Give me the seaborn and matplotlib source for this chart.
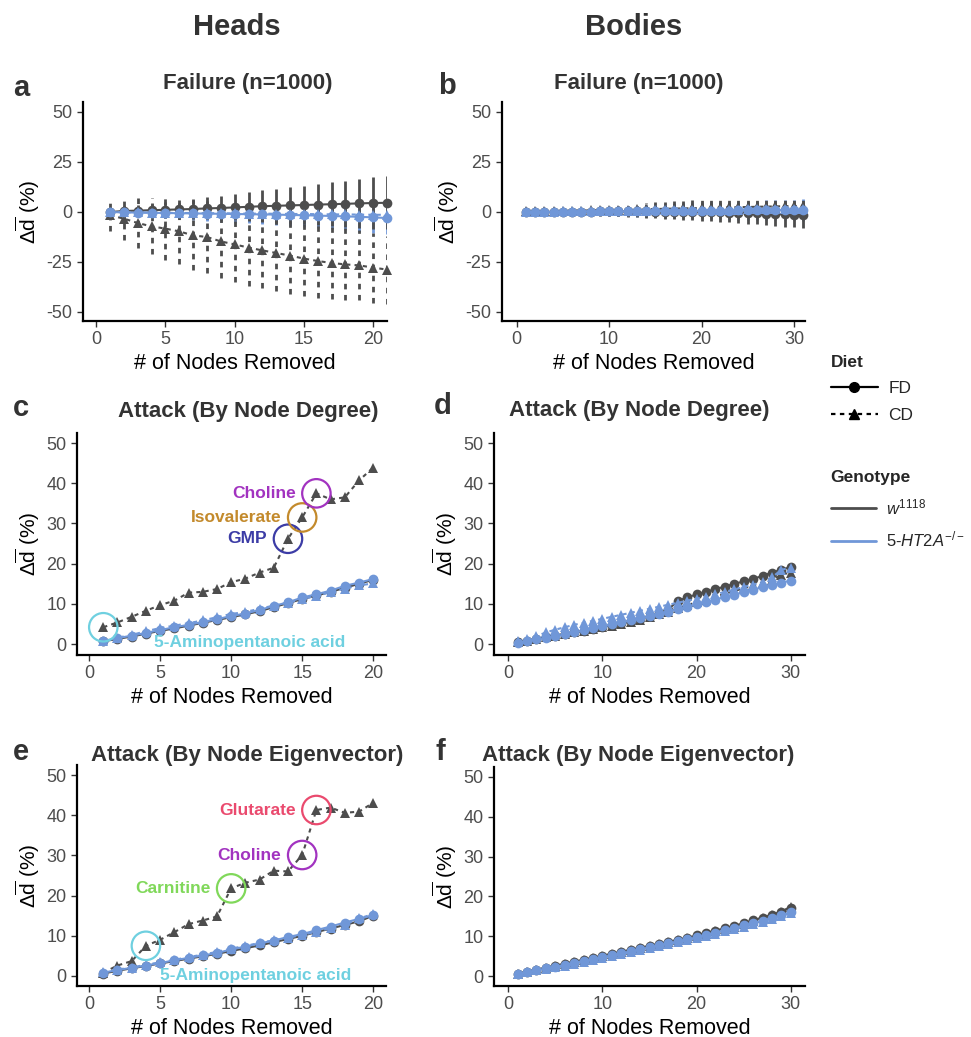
import numpy as np
import pandas as pd
import seaborn as sns
import matplotlib.pyplot as plt
from matplotlib.lines import Line2D

sns.set_theme(style="ticks")
plt.rcParams['font.family'] = ['Liberation Sans', 'DejaVu Sans']
plt.rcParams['mathtext.fontset'] = 'custom'
plt.rcParams['mathtext.rm'] = 'Liberation Sans'
plt.rcParams['mathtext.it'] = 'Liberation Sans:italic'
plt.rcParams['mathtext.bf'] = 'Liberation Sans:bold'
plt.rcParams['axes.unicode_minus'] = False

# ---- data ----
genotypes = ['w1118', '5-HT2A']
diets = ['FD', 'CD']

# a: heads, failure
a_x = list(range(1, 22))
a_w_fd = [0, 0.5, 0.7, 0.9, 1.1, 1.3, 1.5, 1.8, 2.0, 2.3, 2.6, 2.9, 3.1, 3.3, 3.5, 3.7, 3.9, 4.1, 4.3, 4.5, 4.6]
a_w_fd_sd = [1.5, 2.5, 3.0, 3.5, 4.0, 4.5, 5.0, 5.5, 6.0, 6.5, 7.3, 8.0, 8.5, 9.0, 9.5, 10.3, 11.0, 11.5, 12.2, 12.8, 13.3]
a_w_cd = [-1.7, -3.3, -5.5, -7.2, -8.3, -9.7, -11.7, -12.5, -14.7, -16.2, -17.8, -19.2, -20.5, -21.8, -23.3, -24.5, -25.5, -26.2, -26.7, -27.8, -28.8]
a_w_cd_sd = [8, 10.5, 12.5, 14, 15.5, 16.5, 17.5, 18, 18.5, 19, 19, 19, 19, 19, 18.5, 18.5, 18, 18, 17.5, 17.5, 17]
a_h_fd = [0, -0.2, -0.3, -0.4, -0.5, -0.6, -0.7, -0.8, -0.9, -1.0, -1.1, -1.2, -1.3, -1.5, -1.6, -1.8, -2.0, -2.2, -2.4, -2.7, -3.0]
a_h_fd_sd = [1, 1.5, 2, 2.3, 2.6, 3, 3.3, 3.6, 4, 4.3, 4.6, 5, 5.3, 5.6, 6, 6.3, 6.7, 7, 7.4, 7.8, 8.2]
a_h_cd = [0.1, -0.1, -0.2, -0.3, -0.4, -0.5, -0.5, -0.6, -0.6, -0.7, -0.8, -0.8, -0.9, -1.0, -1.0, -1.1, -1.2, -1.2, -1.3, -1.4, -1.4]
a_h_cd_sd = [1, 1.4, 1.8, 2.1, 2.4, 2.7, 3.0, 3.3, 3.6, 3.9, 4.2, 4.5, 4.8, 5.1, 5.4, 5.7, 6.0, 6.3, 6.6, 6.9, 7.2]

# b: bodies, failure
b_x = list(range(1, 32))
b_w_fd = [0, 0, 0.1, 0.1, 0.1, 0.2, 0.2, 0.2, 0.3, 0.3, 0.3, 0.3, 0.3, 0.3, 0.2, 0.2, 0.1, 0.1, 0, 0,
          -0.1, -0.2, -0.3, -0.4, -0.5, -0.6, -0.8, -1.0, -1.2, -1.4, -1.6]
b_w_fd_sd = [0.5, 0.7, 0.9, 1.1, 1.3, 1.5, 1.7, 1.9, 2.1, 2.3, 2.5, 2.7, 2.9, 3.1, 3.3, 3.5, 3.7, 3.9, 4.1, 4.3,
             4.5, 4.7, 4.9, 5.1, 5.3, 5.5, 5.7, 5.9, 6.1, 6.3, 6.5]
b_w_cd = [0.4, 0.5, 0.5, 0.6, 0.6, 0.7, 0.7, 0.8, 0.9, 1.0, 1.1, 1.2, 1.3, 1.4, 1.5, 1.6, 1.7, 1.8, 1.9, 2.0,
          2.1, 2.2, 2.3, 2.4, 2.5, 2.6, 2.7, 2.8, 2.9, 3.0, 3.1]
b_w_cd_sd = [0.5, 0.7, 0.9, 1.1, 1.3, 1.5, 1.7, 1.9, 2.1, 2.3, 2.5, 2.7, 2.9, 3.1, 3.3, 3.5, 3.7, 3.9, 4.1, 4.3,
             4.4, 4.5, 4.6, 4.7, 4.8, 4.9, 5.0, 5.1, 5.2, 5.3, 5.4]
b_h_fd = [0, 0, 0.1, 0.1, 0.1, 0.2, 0.2, 0.2, 0.3, 0.3, 0.3, 0.4, 0.4, 0.4, 0.5, 0.5, 0.5, 0.6, 0.6, 0.6,
          0.7, 0.7, 0.7, 0.8, 0.8, 0.8, 0.9, 0.9, 0.9, 1.0, 1.0]
b_h_fd_sd = [0.4, 0.6, 0.8, 1.0, 1.2, 1.4, 1.6, 1.8, 2.0, 2.2, 2.4, 2.6, 2.8, 3.0, 3.2, 3.4, 3.6, 3.8, 4.0, 4.2,
             4.3, 4.4, 4.5, 4.6, 4.7, 4.8, 4.9, 5.0, 5.1, 5.2, 5.3]
b_h_cd = [0.1, 0.1, 0.2, 0.2, 0.3, 0.3, 0.4, 0.4, 0.5, 0.5, 0.6, 0.6, 0.7, 0.7, 0.8, 0.8, 0.9, 0.9, 1.0, 1.0,
          1.1, 1.1, 1.2, 1.2, 1.3, 1.3, 1.4, 1.4, 1.5, 1.5, 1.6]
b_h_cd_sd = [0.4, 0.6, 0.8, 1.0, 1.2, 1.4, 1.6, 1.8, 2.0, 2.2, 2.4, 2.6, 2.8, 3.0, 3.2, 3.4, 3.6, 3.8, 4.0, 4.2,
             4.3, 4.4, 4.5, 4.6, 4.7, 4.8, 4.9, 5.0, 5.1, 5.2, 5.3]

# c: heads, attack by degree
c_x = list(range(1, 21))
c_w_fd = [0.7, 1.3, 1.9, 2.6, 3.3, 3.9, 4.6, 5.3, 6.0, 6.7, 7.4, 8.2, 9.2, 10.2, 11.2, 12.1, 13.0, 14.0, 15.0, 16.0]
c_w_cd = [4.2, 5.4, 6.8, 8.3, 9.7, 10.8, 12.8, 13.0, 13.7, 15.4, 16.3, 17.8, 19.0, 26.2, 31.5, 37.5, 36.0, 36.5, 40.7, 43.9]
c_h_fd = [0.8, 1.5, 2.1, 2.8, 3.5, 4.2, 4.8, 5.5, 6.2, 7.0, 7.6, 8.5, 9.5, 10.4, 11.6, 12.4, 13.3, 14.5, 15.3, 16.2]
c_h_cd = [0.9, 1.6, 2.3, 3.2, 4.0, 4.6, 5.2, 5.9, 6.7, 7.5, 8.0, 8.8, 9.6, 10.3, 11.2, 12.0, 12.9, 13.8, 14.6, 15.1]

# d: bodies, attack by degree
d_x = list(range(1, 31))
d_w_fd = [0.5, 0.9, 1.3, 1.7, 2.1, 2.5, 2.9, 3.3, 3.8, 4.3, 4.8, 5.3, 5.8, 6.3, 6.9, 7.7, 8.6, 10.8, 11.6, 12.4,
          13.0, 13.7, 14.3, 15.0, 15.6, 16.2, 17.0, 17.8, 18.5, 19.2]
d_w_cd = [0.5, 0.9, 1.3, 1.7, 2.1, 2.5, 2.9, 3.3, 3.8, 4.2, 4.6, 5.1, 5.6, 6.1, 6.7, 7.4, 8.1, 8.9, 9.7, 10.4,
          11.1, 11.8, 12.5, 13.2, 13.9, 14.6, 15.3, 16.0, 17.3, 17.8]
d_h_fd = [0.4, 0.8, 1.2, 1.6, 2.0, 2.4, 2.9, 3.4, 3.9, 4.4, 4.9, 5.4, 5.9, 6.4, 6.9, 7.5, 8.1, 8.7, 9.3, 9.9,
          10.5, 11.1, 11.7, 12.3, 12.9, 13.5, 14.2, 14.8, 15.3, 15.8]
d_h_cd = [0.8, 1.4, 2.0, 2.9, 3.6, 4.2, 4.8, 5.3, 5.8, 6.3, 6.8, 7.3, 7.8, 8.3, 8.8, 9.3, 9.8, 10.3, 10.8, 11.3,
          11.8, 12.4, 13.0, 13.6, 14.2, 14.8, 15.5, 16.6, 18.5, 19.0]

# e: heads, attack by eigenvector
e_x = list(range(1, 21))
e_w_fd = [0.6, 1.3, 1.9, 2.5, 3.1, 3.7, 4.3, 4.9, 5.5, 6.2, 6.9, 7.6, 8.4, 9.2, 10.0, 10.9, 11.8, 12.7, 13.6, 15.0]
e_w_cd = [0.8, 2.6, 3.7, 7.5, 9.0, 10.9, 12.9, 13.8, 14.8, 21.8, 23.2, 24.0, 26.2, 26.0, 30.1, 41.3, 41.9, 40.6, 40.9, 43.1]
e_h_fd = [0.8, 1.5, 2.0, 2.6, 3.2, 3.9, 4.5, 5.1, 5.7, 6.6, 7.3, 8.1, 8.8, 9.7, 10.4, 11.4, 12.3, 13.3, 14.2, 15.1]
e_h_cd = [0.9, 1.6, 2.1, 2.8, 3.4, 4.0, 4.7, 5.3, 6.0, 6.8, 7.5, 8.2, 8.9, 9.5, 10.2, 11.0, 11.9, 12.8, 14.3, 15.4]

# f: bodies, attack by eigenvector
f_x = list(range(1, 31))
f_w_fd = [0.6, 1.1, 1.6, 2.1, 2.6, 3.1, 3.6, 4.1, 4.6, 5.1, 5.6, 6.1, 6.6, 7.1, 7.6, 8.1, 8.6, 9.1, 9.6, 10.2,
          10.8, 11.4, 12.0, 12.6, 13.3, 14.0, 14.7, 15.4, 16.2, 17.2]
f_w_cd = [0.5, 1.0, 1.5, 2.0, 2.5, 3.0, 3.5, 4.0, 4.5, 5.0, 5.5, 6.0, 6.5, 7.0, 7.5, 8.0, 8.5, 9.0, 9.5, 10.0,
          10.6, 11.2, 11.8, 12.4, 13.1, 13.8, 14.5, 15.3, 16.2, 17.4]
f_h_fd = [0.5, 0.9, 1.4, 1.9, 2.3, 2.8, 3.3, 3.8, 4.2, 4.7, 5.2, 5.7, 6.2, 6.7, 7.2, 7.7, 8.2, 8.7, 9.2, 9.7,
          10.3, 10.9, 11.5, 12.1, 12.7, 13.3, 13.9, 14.6, 15.3, 16.0]
f_h_cd = [0.6, 1.0, 1.4, 1.8, 2.2, 2.6, 3.0, 3.5, 4.0, 4.5, 5.0, 5.5, 6.0, 6.5, 7.0, 7.5, 8.0, 8.5, 9.0, 9.5,
          10.0, 10.6, 11.2, 11.8, 12.4, 13.0, 13.6, 14.3, 15.0, 15.8]

# annotations: (x, y, label, color)
ann_c = [(1, 4.2, None, '#6fd0e0'), (14, 26.2, 'GMP', '#3c3ca6'), (15, 31.5, 'Isovalerate', '#c38a2c'),
         (16, 37.5, 'Choline', '#a233c0')]
ann_e = [(4, 7.5, None, '#6fd0e0'), (10, 21.8, 'Carnitine', '#80d85a'), (15, 30.1, 'Choline', '#a233c0'),
         (16, 41.3, 'Glutarate', '#ea4a6e')]

DARK = '#4d4d4d'
BLUE = '#7097d8'
pal = {'w1118': DARK, '5-HT2A': BLUE}

W, H = 971, 1037
fig = plt.figure(figsize=(W / 100, H / 100), dpi=100)


def box(l, r, t, b):
    return [l / W, 1 - b / H, (r - l) / W, (b - t) / H]


def long_df(x, w_fd, w_cd, h_fd, h_cd):
    rows = []
    for g, d, ys in [('w1118', 'FD', w_fd), ('w1118', 'CD', w_cd), ('5-HT2A', 'FD', h_fd), ('5-HT2A', 'CD', h_cd)]:
        for xi, yi in zip(x, ys):
            rows.append((xi, yi, g, d))
    return pd.DataFrame(rows, columns=['x', 'y', 'Genotype', 'Diet'])


def draw(ax, df, ms=7):
    sns.lineplot(data=df, x='x', y='y', hue='Genotype', style='Diet', hue_order=genotypes,
                 style_order=diets, palette=pal, markers={'FD': 'o', 'CD': '^'},
                 dashes={'FD': '', 'CD': (2, 2)}, markersize=ms, markeredgewidth=0,
                 linewidth=1.5, legend=False, ax=ax, clip_on=False)


def style(ax, xlim, ylim, yticks, xticks):
    ax.set_xlim(*xlim)
    ax.set_ylim(*ylim)
    ax.set_yticks(yticks)
    ax.set_xticks(xticks)
    for s in ['top', 'right']:
        ax.spines[s].set_visible(False)
    for s in ['left', 'bottom']:
        ax.spines[s].set_color('black')
        ax.spines[s].set_linewidth(1.6)
    ax.tick_params(axis='both', colors='#333333', labelcolor='#4d4d4d', labelsize=13, length=4, width=1)
    ax.set_xlabel('# of Nodes Removed', fontsize=15.5, color='black', labelpad=3)
    ax.set_ylabel(r'$\Delta\overline{\mathrm{d}}$ (%)', fontsize=15, color='black', labelpad=3)


def errbars(ax, x, ys, sds, color, dashed):
    lo = [m - s for m, s in zip(ys, sds)]
    hi = [m + s for m, s in zip(ys, sds)]
    ax.vlines(x, lo, hi, colors=color, linewidth=2.0, linestyles=(0, (2, 2)) if dashed else 'solid')


# panel a
ax_a = fig.add_axes(box(83, 387, 102, 321))
errbars(ax_a, a_x, a_h_cd, a_h_cd_sd, BLUE, True)
errbars(ax_a, a_x, a_h_fd, a_h_fd_sd, BLUE, False)
errbars(ax_a, a_x, a_w_cd, a_w_cd_sd, DARK, True)
errbars(ax_a, a_x, a_w_fd, a_w_fd_sd, DARK, False)
draw(ax_a, long_df(a_x, a_w_fd, a_w_cd, a_h_fd, a_h_cd))
style(ax_a, (-0.95, 21), (-54.5, 55), [-50, -25, 0, 25, 50], [0, 5, 10, 15, 20])

# panel b
ax_b = fig.add_axes(box(502, 805, 102, 321))
errbars(ax_b, b_x, b_h_cd, b_h_cd_sd, BLUE, True)
errbars(ax_b, b_x, b_h_fd, b_h_fd_sd, BLUE, False)
errbars(ax_b, b_x, b_w_cd, b_w_cd_sd, DARK, True)
errbars(ax_b, b_x, b_w_fd, b_w_fd_sd, DARK, False)
draw(ax_b, long_df(b_x, b_w_fd, b_w_cd, b_h_fd, b_h_cd))
style(ax_b, (-1.6, 31.2), (-54.5, 55), [-50, -25, 0, 25, 50], [0, 10, 20, 30])

# panel c
ax_c = fig.add_axes(box(77, 386, 433, 655))
draw(ax_c, long_df(c_x, c_w_fd, c_w_cd, c_h_fd, c_h_cd))
style(ax_c, (-0.85, 20.9), (-2.7, 52.5), [0, 10, 20, 30, 40, 50], [0, 5, 10, 15, 20])

# panel d
ax_d = fig.add_axes(box(494, 805, 433, 655))
draw(ax_d, long_df(d_x, d_w_fd, d_w_cd, d_h_fd, d_h_cd))
style(ax_d, (-1.5, 31.5), (-2.7, 52.5), [0, 10, 20, 30, 40, 50], [0, 10, 20, 30])

# panel e
ax_e = fig.add_axes(box(77, 386, 765, 986))
draw(ax_e, long_df(e_x, e_w_fd, e_w_cd, e_h_fd, e_h_cd))
style(ax_e, (-0.85, 20.9), (-2.5, 52.5), [0, 10, 20, 30, 40, 50], [0, 5, 10, 15, 20])

# panel f
ax_f = fig.add_axes(box(494, 805, 767, 986))
draw(ax_f, long_df(f_x, f_w_fd, f_w_cd, f_h_fd, f_h_cd))
style(ax_f, (-1.5, 31.5), (-2.5, 52.5), [0, 10, 20, 30, 40, 50], [0, 10, 20, 30])


def annotate(ax, anns, acid_xy):
    for x, y, lab, col in anns:
        ax.scatter([x], [y], s=420, facecolors='none', edgecolors=col, linewidths=1.6, zorder=5, clip_on=False)
        if lab:
            ax.annotate(lab, (x, y), xytext=(-15, 0), textcoords='offset points', ha='right', va='center',
                        color=col, fontsize=12.5, fontweight='bold')
    ax.text(acid_xy[0], acid_xy[1], '5-Aminopentanoic acid', ha='center', va='center', color='#6fd0e0',
            fontsize=12.5, fontweight='bold', zorder=6)


annotate(ax_c, ann_c, (11.3, 0.4))
annotate(ax_e, ann_e, (11.7, 0.1))

# titles and panel letters
for x, y, t in [(248, 84, 'Failure (n=1000)'), (639, 84, 'Failure (n=1000)'),
                (248, 411, 'Attack (By Node Degree)'), (639, 410, 'Attack (By Node Degree)'),
                (247, 755, 'Attack (By Node Eigenvector)'), (638, 755, 'Attack (By Node Eigenvector)')]:
    fig.text(x / W, 1 - y / H, t, ha='center', va='center', fontsize=16, fontweight='bold', color='#333333')
for x, y, t in [(21, 88, 'a'), (447, 86, 'b'), (21, 408, 'c'), (443, 406, 'd'), (21, 752, 'e'), (440, 752, 'f')]:
    fig.text(x / W, 1 - y / H, t, ha='center', va='center', fontsize=21, fontweight='bold', color='#333333')
fig.text(237 / W, 1 - 27 / H, 'Heads', ha='center', va='center', fontsize=21, fontweight='bold', color='#333333')
fig.text(634 / W, 1 - 27 / H, 'Bodies', ha='center', va='center', fontsize=21, fontweight='bold', color='#333333')

# legends
diet_handles = [Line2D([], [], color='black', marker='o', linestyle='-', markersize=7, linewidth=1.6),
                Line2D([], [], color='black', marker='^', linestyle=(0, (2, 2)), markersize=7, linewidth=1.6)]
leg1 = fig.legend(diet_handles, diets, title='Diet', loc='upper left', bbox_to_anchor=(824 / W, 1 - 348 / H),
                  frameon=False, fontsize=12.5, title_fontproperties={'weight': 'bold', 'size': 12.5},
                  handlelength=2.7, handletextpad=0.6, labelspacing=0.65, borderaxespad=0)
leg1._legend_box.align = 'left'
geno_handles = [Line2D([], [], color=DARK, linewidth=2), Line2D([], [], color=BLUE, linewidth=2)]
leg2 = fig.legend(geno_handles, [r'$w^{1118}$', r'$5$-$HT2A^{-/-}$'], title='Genotype', loc='upper left',
                  bbox_to_anchor=(824 / W, 1 - 463 / H), frameon=False, fontsize=12,
                  title_fontproperties={'weight': 'bold', 'size': 12.5},
                  handlelength=2.7, handletextpad=0.6, labelspacing=0.75, borderaxespad=0)
leg2._legend_box.align = 'left'

fig.savefig('out.png', dpi=100)
